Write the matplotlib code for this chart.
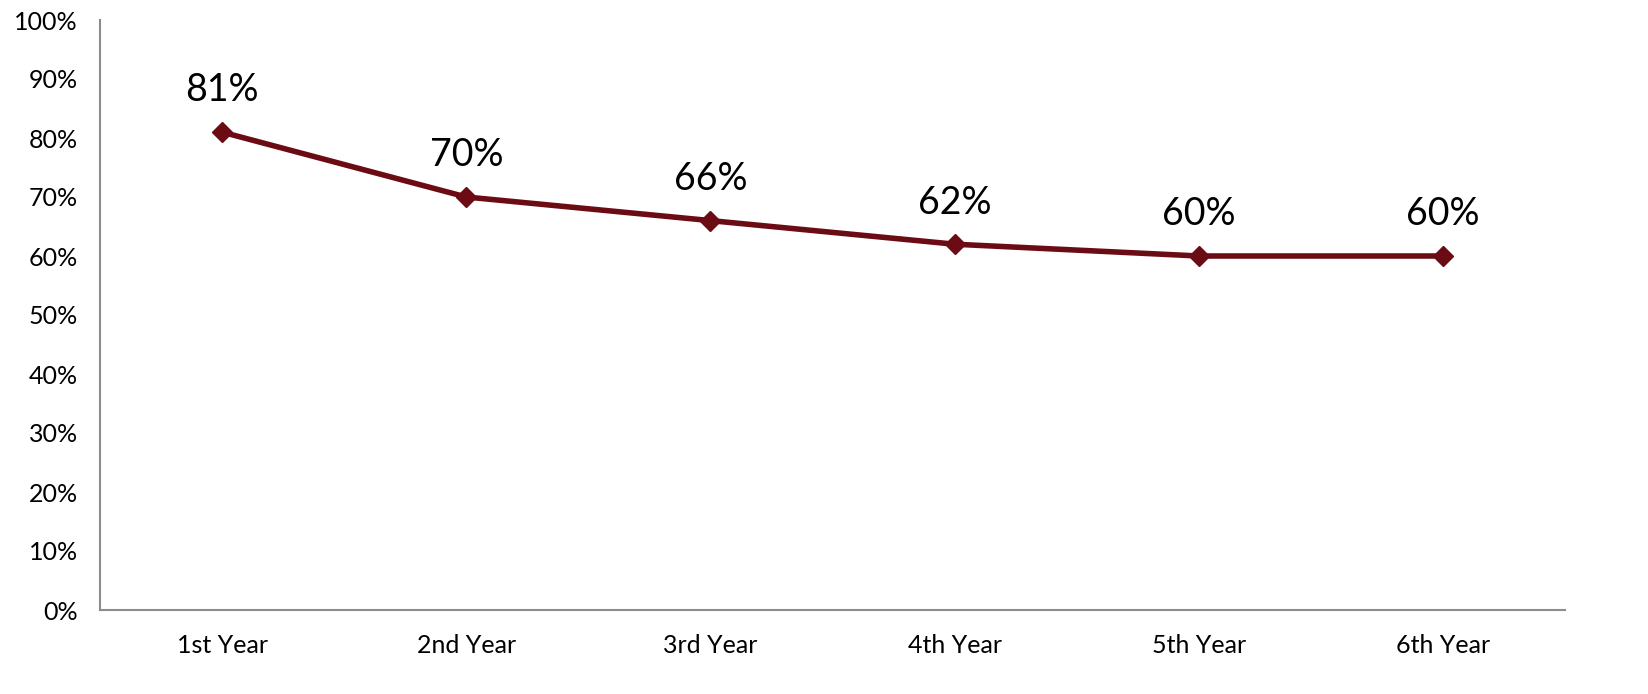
import matplotlib.pyplot as plt
from matplotlib.ticker import PercentFormatter

years = ['1st Year', '2nd Year', '3rd Year', '4th Year', '5th Year', '6th Year']
rates = [81, 70, 66, 62, 60, 60]

plt.rcParams['font.family'] = ['Lato', 'DejaVu Sans']

fig = plt.figure(figsize=(16.48, 6.94), dpi=100)
ax = fig.add_axes([100 / 1648, 1 - 610 / 694, 1465 / 1648, 590 / 694])

x = range(len(years))
ax.plot(x, rates, color='#6B0C15', linewidth=4, marker='D', markersize=10)

for xi, v in zip(x, rates):
    ax.annotate(f'{v}%', (xi, v), xytext=(0, 17), textcoords='offset points',
                ha='center', va='bottom', fontsize=27, color='black')

ax.set_xlim(-0.5, 5.5)
ax.set_ylim(0, 100)
ax.set_yticks(range(0, 101, 10))
ax.yaxis.set_major_formatter(PercentFormatter(decimals=0))
ax.set_xticks(list(x))
ax.set_xticklabels(years)
ax.tick_params(length=0, labelsize=18, pad=16)
ax.tick_params(axis='x', pad=17)

for s in ['top', 'right']:
    ax.spines[s].set_visible(False)
for s in ['left', 'bottom']:
    ax.spines[s].set_color('#8c8c8c')
    ax.spines[s].set_linewidth(1.5)

fig.savefig('out.png', dpi=100)
